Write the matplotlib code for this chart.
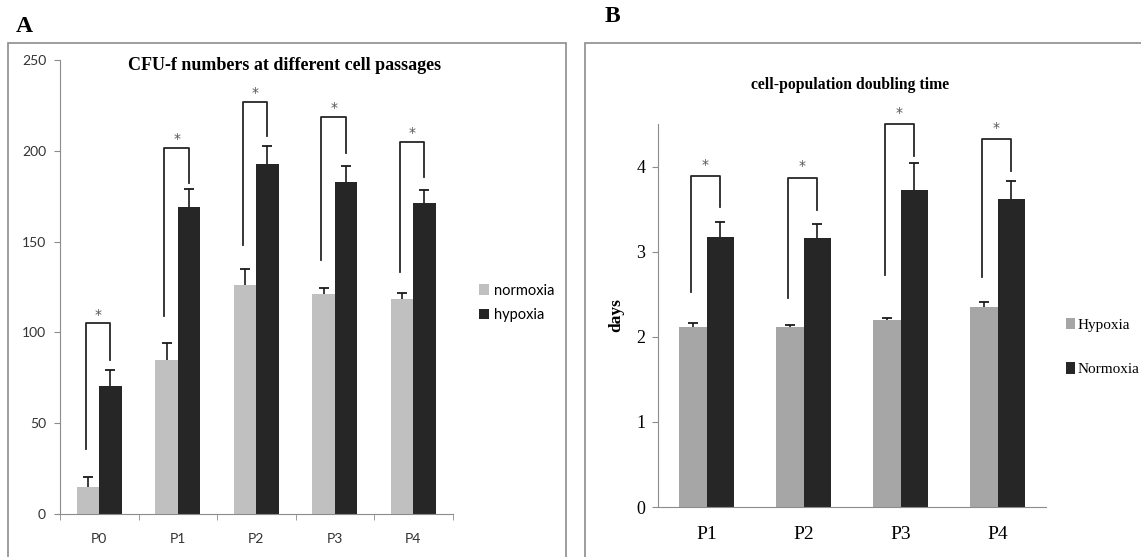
import numpy as np
import matplotlib
matplotlib.use('Agg')
import matplotlib.pyplot as plt
from matplotlib.patches import Rectangle

# ---------------- data
passA = ['P0', 'P1', 'P2', 'P3', 'P4']
normoxiaA = [15, 85, 126, 121.3, 118.3]
normoxiaA_err = [5.5, 9, 9, 3, 3.2]
hypoxiaA = [70.3, 169, 192.5, 183, 171]
hypoxiaA_err = [9.2, 9.7, 10, 8.5, 7.3]
# significance brackets: left foot, right foot, top
brA_left = [36, 109, 148, 140, 133]
brA_right = [85, 182, 208, 199, 185.5]
brA_top = [105, 201.5, 227, 218.6, 204.8]

passB = ['P1', 'P2', 'P3', 'P4']
hypoxiaB = [2.11, 2.11, 2.2, 2.35]
hypoxiaB_err = [0.05, 0.03, 0.02, 0.06]
normoxiaB = [3.17, 3.16, 3.73, 3.62]
normoxiaB_err = [0.18, 0.17, 0.31, 0.21]
brB_left = [2.53, 2.45, 2.73, 2.70]
brB_right = [3.53, 3.49, 4.12, 3.95]
brB_top = [3.89, 3.87, 4.5, 4.32]

W, H = 1141, 557
fig = plt.figure(figsize=(W / 100, H / 100), dpi=100)


def px(x0, y0, x1, y1):
    # pixel box (top-left origin) -> figure fraction rect
    return [x0 / W, 1 - y1 / H, (x1 - x0) / W, (y1 - y0) / H]


def plus_err(ax, xs, ys, errs):
    # Excel-style "plus" error bars: a T on top of each bar, no lower cap
    ln, caps, bars = ax.errorbar(xs, ys, yerr=[np.zeros(len(xs)), errs], fmt='none',
                                 ecolor='#1a1a1a', elinewidth=1.2, capsize=3.5,
                                 capthick=1.3)
    caps[0].set_visible(False)


# panel frames
for x0, x1 in [(7.5, 566), (585, 1150)]:
    fig.patches.append(Rectangle((x0 / W, -0.05), (x1 - x0) / W, 1 - 43 / H + 0.05,
                                 transform=fig.transFigure, fill=False,
                                 edgecolor='#8c8c8c', linewidth=1.2))

fig.text(16 / W, 1 - 27 / H, 'A', family='Liberation Serif', weight='bold',
         fontsize=17, va='center', ha='left')
fig.text(605 / W, 1 - 16 / H, 'B', family='Liberation Serif', weight='bold',
         fontsize=17, va='center', ha='left')

bw = 0.285
axis_col = '#8c8c8c'

# ---------------- panel A
axA = fig.add_axes(px(60, 60, 452.5, 514))
x = np.arange(len(passA))
axA.bar(x - bw / 2, normoxiaA, bw, color='#c0c0c0', label='normoxia')
axA.bar(x + bw / 2, hypoxiaA, bw, color='#262626', label='hypoxia')
plus_err(axA, x - bw / 2, normoxiaA, normoxiaA_err)
plus_err(axA, x + bw / 2, hypoxiaA, hypoxiaA_err)
for i in range(len(x)):
    xl, xr = x[i] - bw / 2 - 0.03, x[i] + bw / 2
    axA.plot([xl, xl, xr, xr], [brA_left[i], brA_top[i], brA_top[i], brA_right[i]],
             color='#262626', lw=1.3)
    axA.text((xl + xr) / 2, brA_top[i] + 1, '*', ha='center', va='bottom',
             fontsize=10, color='#555555', family='DejaVu Sans')
axA.set_xlim(-0.5, len(x) - 0.5)
axA.set_ylim(0, 250)
axA.set_yticks([0, 50, 100, 150, 200, 250])
axA.set_xticks(x)
axA.set_xticklabels(passA)
axA.set_xticks(np.arange(-0.5, len(x)), minor=True)
axA.tick_params(axis='x', which='major', length=0, pad=14)
axA.tick_params(axis='x', which='minor', length=4, color=axis_col, direction='out')
axA.tick_params(axis='y', length=4, color=axis_col, pad=6)
for lab in axA.get_xticklabels() + axA.get_yticklabels():
    lab.set_family('Lato')
    lab.set_fontsize(10)
    lab.set_color('#333333')
for s in ['top', 'right']:
    axA.spines[s].set_visible(False)
for s in ['left', 'bottom']:
    axA.spines[s].set_color(axis_col)
fig.text(285 / W, 1 - 66 / H, 'CFU-f numbers at different cell passages',
         family='Liberation Serif', weight='bold', fontsize=13,
         ha='center', va='center')
axA.legend(loc='center left', bbox_to_anchor=(466 / W, 1 - 303 / H),
           bbox_transform=fig.transFigure, frameon=False, handlelength=0.7,
           handleheight=0.7, handletextpad=0.3, labelspacing=0.75,
           prop={'family': 'Lato', 'size': 10.5})

# ---------------- panel B
axB = fig.add_axes(px(658, 124, 1046, 507))
xb = np.arange(len(passB))
axB.bar(xb - bw / 2, hypoxiaB, bw, color='#a6a6a6', label='Hypoxia')
axB.bar(xb + bw / 2, normoxiaB, bw, color='#262626', label='Normoxia')
plus_err(axB, xb - bw / 2, hypoxiaB, hypoxiaB_err)
plus_err(axB, xb + bw / 2, normoxiaB, normoxiaB_err)
for i in range(len(xb)):
    xl, xr = xb[i] - bw / 2 - 0.02, xb[i] + bw / 2
    axB.plot([xl, xl, xr, xr], [brB_left[i], brB_top[i], brB_top[i], brB_right[i]],
             color='#262626', lw=1.3, clip_on=False)
    axB.text((xl + xr) / 2, brB_top[i] + 0.05, '*', ha='center', va='bottom',
             fontsize=10, color='#555555', family='DejaVu Sans')
axB.set_xlim(-0.5, len(xb) - 0.5)
axB.set_ylim(0, 4.5)
axB.set_yticks([0, 1, 2, 3, 4])
axB.set_xticks(xb)
axB.set_xticklabels(passB)
axB.tick_params(axis='x', length=0, pad=14)
axB.tick_params(axis='y', length=4, color=axis_col, pad=5)
for lab in axB.get_xticklabels():
    lab.set_family('Liberation Serif')
    lab.set_fontsize(14)
for lab in axB.get_yticklabels():
    lab.set_family('Liberation Serif')
    lab.set_fontsize(13)
for s in ['top', 'right']:
    axB.spines[s].set_visible(False)
for s in ['left', 'bottom']:
    axB.spines[s].set_color(axis_col)
axB.set_ylabel('days', family='Liberation Serif', weight='bold', fontsize=12.5,
               labelpad=9)
fig.text(850 / W, 1 - 85 / H, 'cell-population doubling time',
         family='Liberation Serif', weight='bold', fontsize=11.3,
         ha='center', va='center')
axB.legend(loc='center left', bbox_to_anchor=(1052 / W, 1 - 347 / H),
           bbox_transform=fig.transFigure, frameon=False, handlelength=0.6,
           handleheight=0.8, handletextpad=0.15, labelspacing=2.0,
           prop={'family': 'Liberation Serif', 'size': 11})

fig.savefig('out.png', dpi=100)
